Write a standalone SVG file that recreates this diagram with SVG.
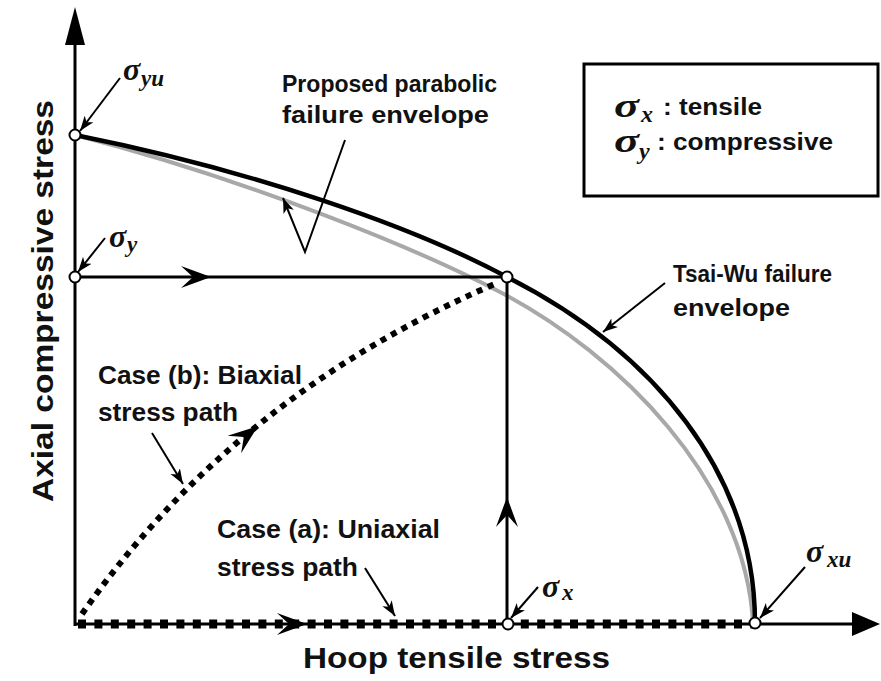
<svg xmlns="http://www.w3.org/2000/svg" width="881" height="681" viewBox="0 0 881 681">
<style>
.lbl{font-family:"Liberation Sans",Arial,sans-serif;font-weight:bold;fill:#111}
.sym{font-family:"Liberation Serif","Times New Roman",serif;font-weight:bold;font-style:italic;fill:#111}
.ax{stroke:#000;stroke-width:3;fill:none}
.ann{stroke:#000;stroke-width:2;fill:none;marker-end:url(#ah)}
.pt{fill:#fff;stroke:#000;stroke-width:2}
.path{stroke:#000;stroke-width:3;fill:none}
</style>
<defs>
<marker id="ah" markerUnits="userSpaceOnUse" markerWidth="18" markerHeight="12" refX="15" refY="6" orient="auto">
<path d="M0,0.5 L15,6 L0,11.5 L4,6 Z" fill="#000"/>
</marker>
<path id="stealth" d="M0,0 L-30,-11 L-18,0 L-30,11 Z" fill="#000"/>
</defs>
<rect width="881" height="681" fill="#fff"/>

<g id="axes">
<line class="ax" x1="75" y1="626" x2="75" y2="40"/>
<polygon points="75,7 65,45 85,45" fill="#000"/>
<line class="ax" x1="75" y1="624" x2="855" y2="624"/>
<polygon points="880,624 852,612 852,636" fill="#000"/>
</g>

<g id="envelopes">
<path d="M75,135 C250,180 420,250 500,292 C620,355 745,480 753,623" stroke="#a8a8a8" stroke-width="4" fill="none"/>
<path d="M75,135 C250,170 410,225 507,277 C655,352 755,475 755,623" stroke="#000" stroke-width="4.5" fill="none"/>
</g>

<g id="connectors">
<line class="path" x1="75" y1="277" x2="507" y2="277"/>
<use href="#stealth" transform="translate(211,277)"/>
<line class="path" x1="507" y1="277" x2="507" y2="624"/>
<use href="#stealth" transform="translate(507,497) rotate(-90)"/>
<path d="M78,624 H752" stroke="#000" stroke-width="9" stroke-dasharray="8 8.4" fill="none"/>
<use href="#stealth" transform="translate(307,624)"/>
<path d="M82,614 Q235,395 497,283" stroke="#000" stroke-width="6" stroke-dasharray="6 6" fill="none"/>
<use href="#stealth" transform="translate(258,426) rotate(-38)"/>
<line class="ann" x1="120" y1="78" x2="80" y2="131"/>
<line class="ann" x1="105" y1="238" x2="78" y2="272"/>
<polyline class="ann" points="345,140 305,252 283,198"/>
<line class="ann" x1="665" y1="283" x2="603" y2="332"/>
<line class="ann" x1="152" y1="433" x2="183" y2="484"/>
<line class="ann" x1="365" y1="568" x2="395" y2="616"/>
<line class="ann" x1="538" y1="587" x2="511" y2="618"/>
<line class="ann" x1="805" y1="567" x2="760" y2="618"/>
</g>

<g id="points">
<circle class="pt" cx="75" cy="135" r="5.5"/>
<circle class="pt" cx="75" cy="277" r="5.5"/>
<circle class="pt" cx="507" cy="277" r="5.5"/>
<circle class="pt" cx="508" cy="624" r="5.5"/>
<circle class="pt" cx="755" cy="623" r="5.5"/>
</g>

<g id="symbols">
<text class="sym" x="123" y="80" font-size="32">σ</text>
<text class="sym" x="141" y="86" font-size="23">yu</text>
<text class="sym" x="109" y="247" font-size="32">σ</text>
<text class="sym" x="127" y="252" font-size="23">y</text>
<text class="sym" x="542" y="597" font-size="32">σ</text>
<text class="sym" x="562" y="600" font-size="23">x</text>
<text class="sym" x="806" y="562" font-size="32">σ</text>
<text class="sym" x="827" y="567" font-size="23">xu</text>
</g>

<g id="legend">
<rect x="584" y="64" width="294" height="132" fill="#fff" stroke="#000" stroke-width="3"/>
<text class="sym" x="614" y="117" font-size="34" textLength="25" lengthAdjust="spacingAndGlyphs">σ</text>
<text class="sym" x="641" y="122" font-size="24">x</text>
<text class="lbl" x="663" y="115" font-size="23" textLength="99" lengthAdjust="spacingAndGlyphs">: tensile</text>
<text class="sym" x="614" y="152" font-size="34" textLength="25" lengthAdjust="spacingAndGlyphs">σ</text>
<text class="sym" x="639" y="159" font-size="24">y</text>
<text class="lbl" x="657" y="150" font-size="23" textLength="176" lengthAdjust="spacingAndGlyphs">: compressive</text>
</g>

<g id="labels">
<text class="lbl" x="282" y="92" font-size="23" textLength="215" lengthAdjust="spacingAndGlyphs">Proposed parabolic</text>
<text class="lbl" x="282" y="123" font-size="23" textLength="207" lengthAdjust="spacingAndGlyphs">failure envelope</text>
<text class="lbl" x="673" y="282" font-size="24" textLength="159" lengthAdjust="spacingAndGlyphs">Tsai-Wu failure</text>
<text class="lbl" x="673" y="316" font-size="24" textLength="117" lengthAdjust="spacingAndGlyphs">envelope</text>
<text class="lbl" x="98" y="384" font-size="25" textLength="204" lengthAdjust="spacingAndGlyphs">Case (b): Biaxial</text>
<text class="lbl" x="98" y="421" font-size="25" textLength="140" lengthAdjust="spacingAndGlyphs">stress path</text>
<text class="lbl" x="217" y="538" font-size="25" textLength="223" lengthAdjust="spacingAndGlyphs">Case (a): Uniaxial</text>
<text class="lbl" x="217" y="576" font-size="25" textLength="141" lengthAdjust="spacingAndGlyphs">stress path</text>
<text class="lbl" x="303" y="668" font-size="29" textLength="307" lengthAdjust="spacingAndGlyphs">Hoop tensile stress</text>
<text class="lbl" transform="translate(53,502) rotate(-90)" font-size="29" textLength="402" lengthAdjust="spacingAndGlyphs">Axial compressive stress</text>
</g>
</svg>
